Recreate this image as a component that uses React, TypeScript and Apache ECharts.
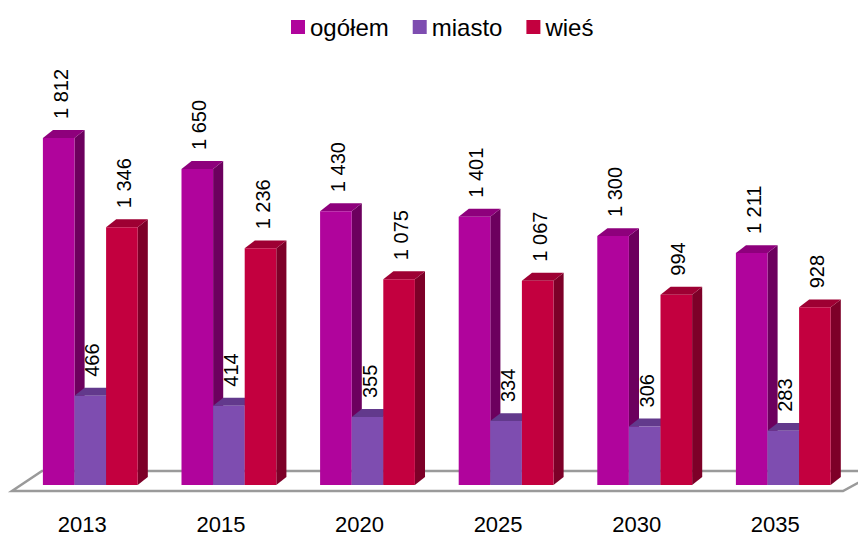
import React, { useEffect, useRef } from "react";
import * as echarts from "echarts";

const categories = ["2013", "2015", "2020", "2025", "2030", "2035"];
const ogolem = [1812, 1650, 1430, 1401, 1300, 1211];
const miasto = [466, 414, 355, 334, 306, 283];
const wies = [1346, 1236, 1075, 1067, 994, 928];

const seriesNames = ["ogółem", "miasto", "wieś"];
const seriesData = [ogolem, miasto, wies];
const frontColors = ["#B0049C", "#7E4DB0", "#C3003F"];
const topColors = ["#8E007C", "#62398C", "#9E0033"];
const sideColors = ["#6C005E", "#4E2C70", "#7D0028"];

const fmt = (v: number) => String(v).replace(/\B(?=(\d{3})+(?!\d))/g, " ");
const FONT = "'Liberation Sans', Arial, sans-serif";

export default function App() {
  const ref = useRef<HTMLDivElement>(null);
  useEffect(() => {
    if (!ref.current) return;
    const chart = echarts.init(ref.current, null, { renderer: "svg" });
    const series = seriesData.map((arr, s) => ({
      type: "custom",
      name: seriesNames[s],
      itemStyle: { color: frontColors[s] },
      encode: { x: 0, y: 1 },
      data: arr.map((v, i) => [i, v]),
      z: 2 + s,
      renderItem: (params: any, api: any) => {
        const idx = api.value(0);
        const val = api.value(1);
        const base = api.coord([idx, 0]);
        const top = api.coord([idx, val]);
        const band = api.size([1, 0])[0];
        const bw = band * 0.228;
        const dx = bw * 0.32;
        const dy = bw * 0.25;
        const x0 = base[0] - 1.5 * bw + s * bw;
        const x1 = x0 + bw;
        const ty = top[1];
        const by = base[1];
        return {
          type: "group",
          children: [
            {
              type: "polygon",
              shape: { points: [[x1, ty], [x1 + dx, ty - dy], [x1 + dx, by - dy], [x1, by]] },
              style: { fill: sideColors[s] },
            },
            {
              type: "polygon",
              shape: { points: [[x0, ty], [x0 + dx, ty - dy], [x1 + dx, ty - dy], [x1, ty]] },
              style: { fill: topColors[s] },
            },
            {
              type: "rect",
              shape: { x: x0, y: ty, width: bw, height: by - ty },
              style: { fill: frontColors[s] },
            },
            {
              type: "text",
              x: x0 + bw / 2 + 2,
              y: ty - 19,
              rotation: Math.PI / 2,
              style: {
                text: fmt(val),
                fill: "#000",
                font: `20px ${FONT}`,
                align: "left",
                verticalAlign: "middle",
              },
            },
          ],
        };
      },
    }));

    chart.setOption({
      animation: false,
      backgroundColor: "#fff",
      legend: {
        left: 286,
        top: 10,
        itemWidth: 14,
        itemHeight: 14,
        itemGap: 24,
        icon: "rect",
        textStyle: { fontFamily: FONT, fontSize: 24, color: "#000" },
        data: seriesNames,
      },
      grid: { left: 21, right: 5.4, top: 102, bottom: 52, containLabel: false },
      xAxis: {
        type: "category",
        data: categories,
        axisLine: { show: false },
        axisTick: { show: false },
        splitLine: { show: false },
        axisLabel: {
          color: "#000",
          fontFamily: FONT,
          fontSize: 22,
          margin: 28,
          padding: [0, 16, 0, 0],
        },
      },
      yAxis: { type: "value", min: 0, max: 2000, show: false },
      graphic: [
        {
          type: "polygon",
          z: 0,
          shape: { points: [[42, 471], [880, 471], [843, 491], [12, 491]] },
          style: { fill: "#fff", stroke: "#9a9a9a", lineWidth: 2.5 },
        },
      ],
      series,
    });
    return () => chart.dispose();
  }, []);
  return (
    <div
      ref={ref}
      style={{ position: "fixed", left: 0, top: 0, width: 858, height: 537 }}
    />
  );
}
